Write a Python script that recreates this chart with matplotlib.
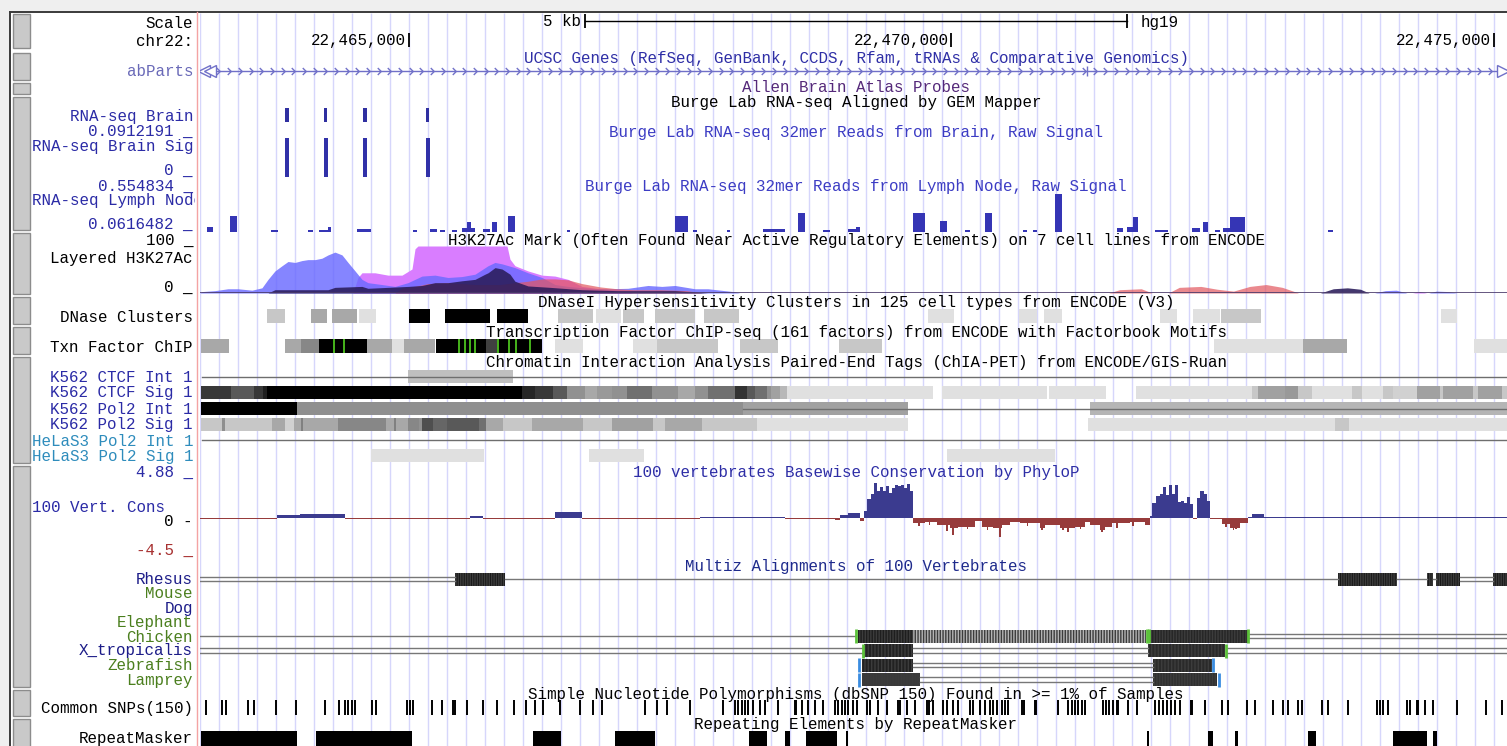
import numpy as np
import matplotlib
matplotlib.use("Agg")
import matplotlib.pyplot as plt
from matplotlib.patches import Rectangle
from matplotlib.path import Path
from matplotlib.transforms import Bbox, TransformedBbox

plt.rcParams['font.family'] = ['Liberation Mono', 'DejaVu Sans Mono']
plt.rcParams['font.size'] = 11.4
plt.rcParams['hatch.linewidth'] = 1.0

W, H = 1507, 746

# chr22 window; every position below is in kb past 22,460,000
ORIGIN = 22_460_000
VIEW_START, VIEW_END = 3.074, 15.121
RULER_TICKS = [5.0, 10.0, 15.0]
SCALE_START, SCALE_LEN = 6.622, 5.0

# Allen brain probes / Burge lab RNA-seq
brain_start = [3.862, 4.221, 4.581, 5.161]
brain_end = [3.890, 4.249, 4.609, 5.189]
brain_sig = [0.0912, 0.0912, 0.0912, 0.0912]

lymph_start = [3.138, 3.350, 3.728, 4.069, 4.171, 4.254, 4.521, 5.037, 5.194, 5.286,
               5.397, 5.489, 5.535, 5.682, 5.765, 5.913, 6.457, 7.452, 7.618, 7.931,
               8.263, 8.586, 8.816, 9.047, 9.120, 9.646, 9.895, 10.125, 10.309, 10.660,
               10.752, 10.955, 11.526, 11.618, 11.673, 11.876, 12.217, 12.319, 12.429, 12.503,
               12.568, 13.471]
lymph_end = [3.194, 3.415, 3.793, 4.115, 4.263, 4.282, 4.650, 5.074, 5.258, 5.332,
             5.443, 5.609, 5.572, 5.747, 5.811, 5.977, 6.484, 7.572, 7.655, 7.959,
             8.466, 8.650, 8.881, 9.157, 9.157, 9.757, 9.959, 10.171, 10.374, 10.697,
             10.789, 11.019, 11.581, 11.673, 11.720, 11.996, 12.291, 12.365, 12.475, 12.568,
             12.706, 13.517]
lymph_val = [0.115, 0.233, 0.083, 0.083, 0.083, 0.115, 0.094, 0.083, 0.094, 0.083,
             0.083, 0.104, 0.169, 0.094, 0.169, 0.233, 0.083, 0.233, 0.083, 0.083,
             0.094, 0.265, 0.083, 0.094, 0.115, 0.265, 0.180, 0.083, 0.265, 0.083,
             0.083, 0.469, 0.104, 0.115, 0.222, 0.083, 0.104, 0.169, 0.083, 0.104,
             0.222, 0.083]

# layered H3K27Ac signal (0-100)
k562_pos = [3.074, 3.092, 3.212, 3.332, 3.424, 3.553, 3.645, 3.701, 3.765, 3.830,
            3.885, 3.950, 4.014, 4.069, 4.134, 4.198, 4.254, 4.318, 4.383, 4.438,
            4.503, 4.567, 4.622, 4.751, 4.871, 4.991, 5.120, 5.240, 5.360, 5.489,
            5.609, 5.729, 5.793, 5.858, 5.977, 6.097, 6.226, 6.346, 6.466, 6.595,
            6.715, 6.835, 7.019, 7.203, 7.332, 7.452, 7.636, 7.756, 7.987, 8.051,
            13.90, 14.00, 14.10, 14.20, 14.40, 14.47, 14.58, 14.66]
k562_val = [0, 3, 5, 9, 9, 6, 11, 29, 47, 58,
            67, 65, 69, 71, 71, 74, 81, 87, 81, 65,
            47, 29, 22, 18, 14, 22, 36, 38, 33, 35,
            40, 58, 65, 62, 54, 43, 33, 18, 14, 11,
            9, 9, 10, 16, 14, 16, 9, 9, 3, 0,
            0, 5, 6, 0, 0, 4, 3, 0]
nhek_pos = [4.484, 4.530, 4.567, 4.687, 4.807, 4.936, 5.028, 5.056, 5.083, 5.904,
            5.931, 5.977, 6.097, 6.226, 6.346, 6.466, 6.595, 6.761, 6.918, 7.065,
            14.25, 14.32, 14.38]
nhek_val = [0, 33, 43, 43, 38, 38, 51, 94, 100, 100,
            72, 58, 47, 38, 36, 29, 14, 9, 6, 0,
            0, 3, 0]
gm12878_pos = [4.871, 4.936, 5.056, 5.175, 5.360, 5.489, 5.609, 5.840, 5.977, 6.097,
               6.226, 6.346, 6.466, 6.595, 6.761, 6.918, 7.065, 7.314, 7.563, 7.701,
               11.45, 11.55, 11.75, 11.85, 12.00, 12.10, 12.30, 12.45, 12.60, 12.75,
               12.90, 13.05, 13.20]
gm12878_val = [0, 10, 14, 20, 22, 20, 18, 18, 22, 25,
               30, 30, 28, 20, 13, 9, 7, 7, 5, 0,
               0, 7, 9, 0, 0, 12, 14, 8, 4, 14,
               18, 12, 0]
shared_pos = [3.701, 3.765, 4.254, 4.318, 4.567, 4.622, 4.991, 5.120, 5.240, 5.360,
              5.489, 5.609, 5.701, 5.729, 5.793, 5.858, 5.931, 5.977, 6.097, 6.300,
              6.595, 6.918, 7.452, 7.756, 13.40, 13.52, 13.65, 13.77, 13.85]
shared_val = [0, 7, 7, 12, 14, 10, 14, 16, 22, 22,
              26, 29, 40, 43, 54, 51, 40, 25, 15, 12,
              7, 5, 5, 0, 0, 9, 11, 8, 0]

# DNase clusters and TF ChIP clusters (score as darkness 0-1)
dnase_start = [3.696, 4.101, 4.291, 4.540, 5.000, 5.332, 5.811, 6.374, 6.724, 6.973,
               7.268, 7.719, 9.784, 10.623, 10.853, 11.922, 12.227, 12.485, 14.512]
dnase_end = [3.854, 4.249, 4.521, 4.696, 5.194, 5.747, 6.093, 6.697, 6.954, 7.166,
             7.636, 8.042, 10.024, 10.789, 11.019, 12.079, 12.475, 12.853, 14.660]
dnase_score = [0.22, 0.34, 0.34, 0.12, 1.0, 1.0, 1.0, 0.22, 0.12, 0.22,
               0.22, 0.22, 0.12, 0.12, 0.12, 0.12, 0.12, 0.22, 0.12]

tfbs_start = [3.080, 3.854, 4.002, 4.167, 4.611, 4.842, 4.957, 5.253, 5.710, 5.811,
              6.346, 7.065, 7.286, 8.051, 8.964, 12.420, 13.240, 14.816]
tfbs_end = [3.344, 4.002, 4.167, 4.611, 4.842, 4.957, 5.236, 5.710, 5.811, 6.226,
            6.604, 7.286, 7.848, 8.401, 9.360, 13.240, 13.646, 15.121]
tfbs_score = [0.34, 0.34, 0.47, 1.0, 0.34, 0.12, 0.34, 1.0, 0.75, 1.0,
              0.12, 0.12, 0.22, 0.22, 0.22, 0.12, 0.34, 0.12]
tfbs_motifs = [4.309, 4.398, 5.458, 5.517, 5.566, 5.605, 5.820, 5.921, 5.987, 6.119]

# ChIA-PET
ctcf_int_start, ctcf_int_end = [4.991], [5.959]
ctcf_sig_start = [3.080, 3.360, 3.572, 3.655, 3.692, 6.042, 6.162, 6.328, 6.457, 6.622,
                  6.733, 6.871, 7.010, 7.240, 7.480, 7.636, 7.756, 8.005, 8.116, 8.189,
                  8.300, 8.337, 8.420, 8.484, 9.913, 10.899, 11.701, 12.770, 12.826, 13.074,
                  13.194, 13.323, 13.692, 13.784, 13.978, 14.070, 14.291, 14.503, 14.531, 14.807,
                  14.853, 15.075]
ctcf_sig_end = [3.360, 3.572, 3.655, 3.692, 6.042, 6.162, 6.328, 6.457, 6.622, 6.733,
                6.871, 7.010, 7.240, 7.480, 7.636, 7.756, 8.005, 8.116, 8.189, 8.300,
                8.337, 8.420, 8.484, 9.830, 10.881, 11.425, 12.770, 12.826, 13.074, 13.194,
                13.323, 13.692, 13.784, 13.978, 14.070, 14.291, 14.503, 14.531, 14.807, 14.853,
                15.075, 15.121]
ctcf_sig_score = [0.78, 0.65, 0.78, 0.88, 1.0, 0.85, 0.78, 0.65, 0.43, 0.34,
                  0.40, 0.43, 0.56, 0.43, 0.34, 0.43, 0.56, 0.80, 0.65, 0.56,
                  0.43, 0.37, 0.28, 0.12, 0.12, 0.12, 0.12, 0.22, 0.37, 0.40,
                  0.22, 0.12, 0.22, 0.12, 0.22, 0.18, 0.37, 0.22, 0.37, 0.22,
                  0.37, 0.22]
pol2_int_start = [3.080, 3.968, 8.079, 11.277]
pol2_int_end = [3.968, 8.079, 9.600, 15.121]
pol2_int_score = [1.0, 0.44, 0.37, 0.29]
pol2_sig_start = [3.080, 3.277, 3.301, 3.738, 3.854, 3.937, 4.002, 4.019, 4.346, 4.786,
                  4.858, 4.884, 4.991, 5.089, 5.120, 5.222, 5.351, 5.646, 5.710, 5.867,
                  6.134, 6.604, 6.871, 7.249, 7.360, 7.701, 8.208, 11.259, 13.535, 13.664]
pol2_sig_end = [3.277, 3.301, 3.738, 3.854, 3.937, 4.002, 4.019, 4.346, 4.786, 4.858,
                4.884, 4.991, 5.089, 5.120, 5.222, 5.351, 5.646, 5.710, 5.867, 6.134,
                6.604, 6.871, 7.249, 7.360, 7.701, 8.208, 9.600, 13.535, 13.664, 15.121]
pol2_sig_score = [0.22, 0.44, 0.22, 0.34, 0.18, 0.34, 0.50, 0.34, 0.47, 0.34,
                  0.50, 0.34, 0.47, 0.43, 0.69, 0.60, 0.65, 0.56, 0.34, 0.22,
                  0.34, 0.22, 0.37, 0.22, 0.34, 0.22, 0.12, 0.12, 0.22, 0.12]
hela_sig_start = [4.650, 6.659, 9.955]
hela_sig_end = [5.696, 7.166, 10.955]
hela_sig_score = [0.12, 0.12, 0.12]

# PhyloP 100-way, piecewise runs between consecutive edges
phylop_edges = [3.074, 3.784, 3.996, 4.410, 5.563, 5.682, 6.346, 6.595, 7.129, 7.683,
                8.051, 8.466, 8.927, 8.973, 9.047, 9.157, 9.194, 9.222, 9.259, 9.286,
                9.314, 9.342, 9.369, 9.397, 9.425, 9.452, 9.480, 9.507, 9.535, 9.563,
                9.590, 9.618, 9.646, 9.756, 9.867, 9.987, 10.061, 10.217, 10.282, 10.383,
                10.466, 10.540, 10.632, 10.816, 10.862, 11.001, 11.139, 11.231, 11.277, 11.369,
                11.415, 11.480, 11.646, 11.784, 11.830, 11.849, 11.886, 11.923, 11.950, 11.978,
                12.005, 12.033, 12.061, 12.088, 12.116, 12.144, 12.171, 12.199, 12.227, 12.263,
                12.291, 12.328, 12.356, 12.383, 12.494, 12.568, 12.660, 12.734, 12.770, 12.881,
                15.121]
phylop_val = [-0.15, 0.25, 0.4, -0.15, 0.2, -0.15, 0.6, -0.15, -0.12, 0.1,
              0.12, -0.12, -0.3, 0.3, 0.5, -0.4, 0.8, 2.1, 2.6, 3.9,
              3.0, 3.4, 3.0, 3.5, 2.8, 3.3, 3.6, 3.5, 3.7, 3.3,
              3.8, 3.0, -0.6, -0.5, -0.8, -1.2, -1.0, -0.4, -1.0, -1.2,
              -0.8, -0.45, -0.6, -1.2, -0.8, -1.2, -1.0, -0.45, -0.8, -1.4,
              -1.0, -0.6, -0.45, -0.8, 0.2, 1.6, 2.4, 2.6, 3.4, 2.5,
              3.7, 2.6, 3.6, 1.8, 1.9, 1.6, 2.3, 1.5, -0.1, 2.2,
              3.0, 2.6, 1.9, -0.1, -0.7, -1.1, -0.6, 0.1, 0.45, 0.1]
phylop_spike_pos = [9.70, 9.80, 9.959, 10.014, 10.15, 10.33, 10.448, 10.70, 10.834, 11.028,
                    11.074, 11.19, 11.388, 11.526, 11.673, 12.531, 12.60, 12.623]
phylop_spike_val = [-0.9, -0.8, -1.5, -1.9, -1.3, -1.4, -2.2, -0.9, -1.4, -1.4,
                    -1.6, -1.3, -1.6, -1.1, -0.9, -1.0, -1.4, -1.3]

# Multiz 100-way: aligned blocks, single and double gap lines, edge marks
rhesus_blocks = [(5.424, 5.885), (13.563, 14.107), (14.383, 14.439), (14.466, 14.687), (14.992, 15.121)]
rhesus_single = [(5.885, 13.563), (14.107, 14.383), (14.439, 14.466)]
rhesus_double = [(3.074, 5.424), (14.687, 14.992)]
chicken_blocks = [(9.139, 9.646), (9.646, 11.793), (11.830, 12.733)]
chicken_single = [(3.074, 9.120)]
chicken_double = [(12.733, 15.121)]
chicken_marks = [9.125, 11.800, 11.825, 12.738]
xtrop_blocks = [(9.194, 9.646), (11.812, 12.521)]
xtrop_double = [(3.074, 9.176), (9.646, 11.812), (12.540, 15.121)]
xtrop_marks = [9.185, 12.530]
zebrafish_blocks = [(9.176, 9.646), (11.858, 12.402)]
zebrafish_double = [(9.646, 11.858)]
zebrafish_marks = [9.150, 12.415]
lamprey_blocks = [(9.176, 9.710), (11.858, 12.448)]
lamprey_double = [(9.710, 11.858)]
lamprey_marks = [9.150, 12.471]

# dbSNP 150 common SNPs
snp_pos = [3.129, 3.277, 3.314, 3.516, 3.572, 3.774, 3.959, 4.226, 4.355, 4.410,
           4.438, 4.475, 4.503, 4.659, 4.696, 4.982, 5.010, 5.037, 5.212, 5.305,
           5.406, 5.420, 5.535, 5.682, 5.811, 5.968, 6.079, 6.162, 6.235, 6.392,
           6.576, 6.696, 6.779, 7.176, 7.286, 7.378, 7.590, 7.894, 8.005, 8.033,
           8.070, 8.097, 8.125, 8.171, 8.236, 8.282, 8.401, 8.558, 8.572, 8.623,
           8.678, 8.742, 8.816, 8.927, 8.954, 8.991, 9.019, 9.047, 9.093, 9.130,
           9.222, 9.249, 9.323, 9.406, 9.507, 9.526, 9.590, 9.664, 9.775, 9.793,
           9.830, 9.922, 9.959, 10.014, 10.060, 10.171, 10.199, 10.263, 10.309, 10.355,
           10.383, 10.420, 10.466, 10.494, 10.521, 10.650, 10.669, 10.770, 10.784, 10.982,
           11.074, 11.111, 11.139, 11.167, 11.203, 11.231, 11.397, 11.425, 11.452, 11.489,
           11.526, 11.540, 11.627, 11.710, 11.876, 11.913, 11.950, 11.987, 12.024, 12.061,
           12.107, 12.208, 12.222, 12.337, 12.494, 12.549, 12.724, 12.798, 12.964, 13.056,
           13.102, 13.194, 13.231, 13.415, 13.471, 13.655, 13.922, 13.950, 13.978, 14.024,
           14.199, 14.227, 14.291, 14.305, 14.365, 14.439, 14.660, 14.927, 15.075]

# RepeatMasker
rmsk_start = [3.080, 4.143, 6.143, 6.899, 8.134, 8.466, 8.660, 9.028, 11.802, 12.365,
              12.614, 13.286, 14.070, 14.439]
rmsk_end = [3.965, 5.028, 6.401, 7.268, 8.300, 8.512, 8.945, 9.047, 11.821, 12.411,
            12.641, 13.360, 14.383, 14.475]

# ---------------------------------------------------------------------------
fig = plt.figure(figsize=(W / 100, H / 100), dpi=100)
fig.patch.set_facecolor('white')

bg = fig.add_axes([0, 0, 1, 1])
bg.set_xlim(0, W)
bg.set_ylim(H, 0)
bg.axis('off')


def px_axes(x0, y0, x1, y1, ylim):
    ax = fig.add_axes([x0 / W, 1 - y1 / H, (x1 - x0) / W, (y1 - y0) / H])
    ax.set_xlim(VIEW_START, VIEW_END)
    ax.set_ylim(*ylim)
    ax.axis('off')
    return ax


def grey(d):
    g = 1 - d
    return (g, g, g)


# page chrome: grey margin, frame, side buttons, red divider
bg.add_patch(Rectangle((0, 0), W, 11, color='#efefef', lw=0))
bg.add_patch(Rectangle((0, 0), 9.5, H, color='#efefef', lw=0))
bg.plot([10, W], [11.5, 11.5], color='#3a3a3a', lw=1.4)
bg.plot([10, 10], [11.5, H], color='#3a3a3a', lw=1.4)
for y0, y1 in [(14, 48), (53, 80), (83, 94), (97, 230), (233, 294), (297, 324),
               (327, 354), (357, 463), (466, 687), (690, 716), (719, 748)]:
    bg.add_patch(Rectangle((12.5, y0), 17.5, y1 - y0, facecolor='#c9c9c9',
                           edgecolor='#8c8c8c', lw=1))
bg.plot([197, 197], [12, H], color='#f4a3a3', lw=1)

trk = px_axes(200, 0, W, H, (H, 0))

# light blue guide lines
step = 10 / 57
guides = np.arange(RULER_TICKS[0] - 11 * step, VIEW_END, step)
trk.vlines(guides, 13, H, color='#d6d6fb', lw=1, zorder=0)

# ruler
trk.plot([SCALE_START, SCALE_START + SCALE_LEN], [21, 21], color='black', lw=1)
trk.vlines([SCALE_START, SCALE_START + SCALE_LEN], 14, 28, color='black', lw=1.3)
for t in RULER_TICKS:
    trk.vlines(t, 33, 47, color='black', lw=1.3)

# abParts strand line
trk.plot([VIEW_START + 0.03, VIEW_END - 0.05], [71, 71], color='#7070c8', lw=1)
chev = Path([(-0.5, 1), (0.5, 0), (-0.5, -1)], [Path.MOVETO, Path.LINETO, Path.LINETO])
ticks = np.arange(VIEW_START + 0.17, VIEW_END - 0.1, 0.0985)
trk.plot(ticks, np.full(len(ticks), 71), ls='none', marker=chev, ms=5,
         mec='#7070c8', mfc='none', mew=1)
trk.plot([VIEW_START + 0.035, VIEW_START + 0.09], [71, 71], ls='none', marker='<',
         ms=9, mec='#7070c8', mfc='white', mew=1)
trk.plot([VIEW_END - 0.04], [71], ls='none', marker='>', ms=9, mec='#7070c8',
         mfc='white', mew=1)
trk.vlines(11.25, 66, 76, color='#7070c8', lw=1)

# RNA-seq Brain alignments
trk.broken_barh([(s, e - s) for s, e in zip(brain_start, brain_end)], (108, 14),
                facecolors='#2f2fa0')

brain_ax = px_axes(200, 138, W, 177, (0, 0.0912191))
brain_ax.bar(np.array(brain_start) - 0.005, brain_sig,
             width=np.array(brain_end) - np.array(brain_start) + 0.01,
             align='edge', color='#3131a8', lw=0)

lymph_ax = px_axes(200, 186, W, 232, (0.0616482, 0.554834))
lymph_ax.bar(lymph_start, lymph_val, width=np.array(lymph_end) - np.array(lymph_start),
             align='edge', color='#3535b5', lw=0)

# layered H3K27Ac
h3_ax = px_axes(200, 246, W, 293, (0, 100))
h3_ax.fill_between(nhek_pos, nhek_val, color='#d97dff', lw=0)
h3_ax.fill_between(k562_pos, k562_val, color='#6a6aff', alpha=0.82, lw=0)
h3_ax.fill_between(gm12878_pos, gm12878_val, color='#e2575f', alpha=0.7, lw=0)
h3_ax.fill_between(shared_pos, shared_val, color='#2a1c5a', alpha=0.88, lw=0)
h3_ax.axhline(0, color='#4a3a6a', lw=1.2)


def score_boxes(starts, ends, scores, y0, h):
    trk.broken_barh([(s, e - s) for s, e in zip(starts, ends)], (y0, h),
                    facecolors=[grey(d) for d in scores], lw=0)


score_boxes(dnase_start, dnase_end, dnase_score, 309, 14)
score_boxes(tfbs_start, tfbs_end, tfbs_score, 339, 14)
trk.vlines(tfbs_motifs, 339, 353, color='#4cc21e', lw=1.3)

# ChIA-PET rows
trk.plot([VIEW_START + 0.02, VIEW_END], [377, 377], color='#6e6e6e', lw=1)
score_boxes(ctcf_int_start, ctcf_int_end, [0.25], 370, 13)
score_boxes(ctcf_sig_start, ctcf_sig_end, ctcf_sig_score, 386, 13)
score_boxes(pol2_int_start, pol2_int_end, pol2_int_score, 402, 13)
trk.plot([pol2_int_end[1], VIEW_END], [408.5, 408.5], color='#6e6e6e', lw=1)
score_boxes(pol2_sig_start, pol2_sig_end, pol2_sig_score, 418, 13)
trk.plot([VIEW_START + 0.02, VIEW_END], [440, 440], color='#6e6e6e', lw=1)
score_boxes(hela_sig_start, hela_sig_end, hela_sig_score, 449, 13)

# PhyloP conservation
cons_ax = px_axes(200, 474, W, 558, (-4.5, 4.88))
edges = np.array(phylop_edges)
vals = np.array(phylop_val)
cons_ax.bar(edges[:-1], vals, width=np.diff(edges), align='edge', lw=0,
            color=np.where(vals >= 0, '#3b3b8f', '#973b3b'))
cons_ax.bar(phylop_spike_pos, phylop_spike_val, width=0.012, lw=0, color='#973b3b')


# Multiz rows
def multiz_row(y, blocks=(), single=(), double=(), marks=(), mark_color=None,
               fills=None, hatch=None):
    for s, e in single:
        trk.plot([s, e], [y, y], color='#777777', lw=1)
    for s, e in double:
        trk.plot([s, e], [y - 2.3, y - 2.3], color='#777777', lw=1)
        trk.plot([s, e], [y + 2.3, y + 2.3], color='#777777', lw=1)
    for i, (s, e) in enumerate(blocks):
        fc = fills[i] if fills else '#1c1c1c'
        hh = hatch[i] if hatch else None
        trk.add_patch(Rectangle((s, y - 6.5), e - s, 13, facecolor=fc,
                                edgecolor='#3c3c3c', hatch=hh, lw=0))
    if marks:
        trk.vlines(marks, y - 7, y + 7, color=mark_color, lw=2)


multiz_row(579, rhesus_blocks, rhesus_single, rhesus_double,
           fills=['#181818'] * 5, hatch=['|||||||'] * 5)
multiz_row(636, chicken_blocks, chicken_single, chicken_double, chicken_marks,
           '#5cc23a', fills=['#1e1e1e', '#b4b4b4', '#262626'],
           hatch=['||||||', '||||||', '||||||'])
multiz_row(650.5, xtrop_blocks, (), xtrop_double, xtrop_marks, '#5cc23a',
           fills=['#222222', '#2a2a2a'], hatch=['|||||', '|||||'])
multiz_row(665, zebrafish_blocks, (), zebrafish_double, zebrafish_marks, '#3a8ce0',
           fills=['#222222', '#2a2a2a'], hatch=['|||||', '|||||'])
multiz_row(679.5, lamprey_blocks, (), lamprey_double, lamprey_marks, '#3a8ce0',
           fills=['#3a3a3a', '#303030'], hatch=['||||||', '||||||'])

# common SNPs and repeats
trk.vlines(snp_pos, 700, 715, color='black', lw=1.4)
trk.broken_barh([(s, e - s) for s, e in zip(rmsk_start, rmsk_end)], (731, 20),
                facecolors='black', lw=0)

# ---------------------------------------------------------------------------
txt = fig.add_axes([0, 0, 1, 1])
txt.set_xlim(0, W)
txt.set_ylim(H, 0)
txt.axis('off')
panel_clip = TransformedBbox(Bbox([[0, 0], [195, H]]), txt.transData)

BLUE = '#2b2ba6'
LBLUE = '#3c3cc4'
SPECIES_BLUE = '#1c1c88'
SPECIES_GREEN = '#4b7f1e'
DY = 1  # nudge glyphs down onto the row centre

side_labels = [
    (22, 'Scale', 'black'), (40, 'chr22:', 'black'), (71, 'abParts', '#6a6ab8'),
    (115, 'RNA-seq Brain', BLUE), (130, '0.0912191 _', BLUE),
    (146, 'RNA-seq Brain Sig', BLUE), (169, '0 _', BLUE), (185, '0.554834 _', BLUE),
    (223, '0.0616482 _', BLUE), (239, '100 _', 'black'), (258, 'Layered H3K27Ac', 'black'),
    (286, '0 _', 'black'), (316, 'DNase Clusters', 'black'), (346, 'Txn Factor ChIP', 'black'),
    (376, 'K562 CTCF Int 1', BLUE), (392, 'K562 CTCF Sig 1', BLUE),
    (408, 'K562 Pol2 Int 1', BLUE), (424, 'K562 Pol2 Sig 1', BLUE),
    (440, 'HeLaS3 Pol2 Int 1', '#2e8cbc'), (456, 'HeLaS3 Pol2 Sig 1', '#2e8cbc'),
    (471, '4.88 _', BLUE), (520, '0 -', 'black'), (549, '-4.5 _', '#a83232'),
    (579, 'Rhesus', SPECIES_BLUE), (593, 'Mouse', SPECIES_GREEN), (607, 'Dog', SPECIES_BLUE),
    (622, 'Elephant', SPECIES_GREEN), (636, 'Chicken', SPECIES_GREEN),
    (650, 'X_tropicalis', SPECIES_BLUE), (664, 'Zebrafish', SPECIES_GREEN),
    (679, 'Lamprey', SPECIES_GREEN), (708, 'Common SNPs(150)', 'black'),
    (738, 'RepeatMasker', 'black'),
]
for y, s, c in side_labels:
    txt.text(193, y + DY, s, color=c, ha='right', va='center')
t = txt.text(32, 200 + DY, 'RNA-seq Lymph Node', color=BLUE, ha='left', va='center')
t.set_clip_box(panel_clip)
t.set_clip_on(True)
txt.text(165, 507 + DY, '100 Vert. Cons', color=BLUE, ha='right', va='center')

CX = 856
titles = [
    (57, 'UCSC Genes (RefSeq, GenBank, CCDS, Rfam, tRNAs & Comparative Genomics)', '#2e2ea6'),
    (87, 'Allen Brain Atlas Probes', '#55297a'),
    (101, 'Burge Lab RNA-seq Aligned by GEM Mapper', 'black'),
    (131, 'Burge Lab RNA-seq 32mer Reads from Brain, Raw Signal', LBLUE),
    (185, 'Burge Lab RNA-seq 32mer Reads from Lymph Node, Raw Signal', LBLUE),
    (239, 'H3K27Ac Mark (Often Found Near Active Regulatory Elements) on 7 cell lines from ENCODE', 'black'),
    (301, 'DNaseI Hypersensitivity Clusters in 125 cell types from ENCODE (V3)', 'black'),
    (331, 'Transcription Factor ChIP-seq (161 factors) from ENCODE with Factorbook Motifs', 'black'),
    (361, 'Chromatin Interaction Analysis Paired-End Tags (ChIA-PET) from ENCODE/GIS-Ruan', 'black'),
    (471, '100 vertebrates Basewise Conservation by PhyloP', '#2e2ea6'),
    (565, 'Multiz Alignments of 100 Vertebrates', '#1e2a8c'),
    (693, 'Simple Nucleotide Polymorphisms (dbSNP 150) Found in >= 1% of Samples', 'black'),
    (723, 'Repeating Elements by RepeatMasker', 'black'),
]
for y, s, c in titles:
    txt.text(CX, y + DY, s, color=c, ha='center', va='center')

# ruler text
to_px = lambda kb: 200 + (kb - VIEW_START) / (VIEW_END - VIEW_START) * (W - 200)
txt.text(to_px(SCALE_START) - 4, 21 + DY, f'{SCALE_LEN:g} kb', ha='right', va='center')
txt.text(to_px(SCALE_START + SCALE_LEN) + 13, 21 + DY, 'hg19', ha='left', va='center')
for tk in RULER_TICKS:
    txt.text(to_px(tk) - 3, 40 + DY, f'{ORIGIN + int(tk * 1000):,}', ha='right', va='center')

fig.savefig('out.png', dpi=100)
